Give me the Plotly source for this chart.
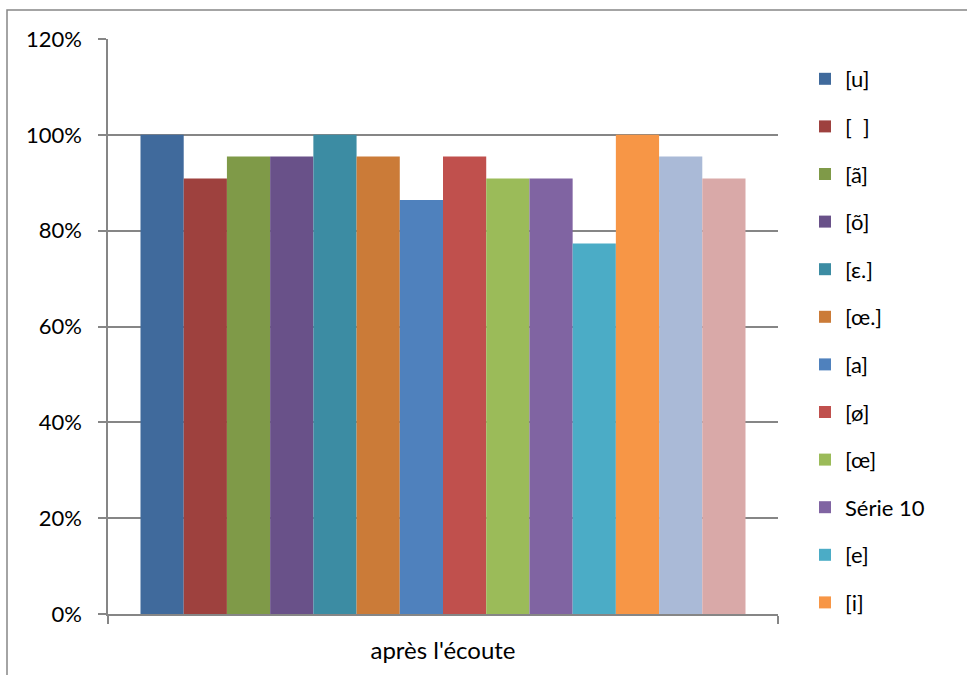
import plotly.graph_objects as go

# Percentage of correct identification per sound, after listening
category = ["après l'écoute"]
series_names = ["[u]", "[  ]", "[ã]", "[õ]", "[ε.]", "[œ.]", "[a]", "[ø]",
                "[œ]", "Série 10", "[e]", "[i]", "Série 13", "Série 14"]
series_values = [1.0, 0.909, 0.955, 0.955, 1.0, 0.955, 0.864, 0.955,
                 0.909, 0.909, 0.773, 1.0, 0.955, 0.909]
series_colors = ["#406A9C", "#9E413E", "#7F9A48", "#695189", "#3C8CA3",
                 "#CB7B38", "#4F81BD", "#C0504D", "#9BBB59", "#8064A2",
                 "#4BACC6", "#F79646", "#AABAD7", "#D9A9A8"]
legend_count = 12  # only the first twelve entries fit in the legend box

y_ticks = [0, 0.2, 0.4, 0.6, 0.8, 1.0, 1.2]
y_tick_text = ["0%", "20%", "40%", "60%", "80%", "100%", "120%"]

FONT = "Lato, 'Open Sans', sans-serif"

fig = go.Figure()
for i, (name, val, col) in enumerate(zip(series_names, series_values, series_colors)):
    fig.add_trace(go.Bar(
        x=category, y=[val], name=name,
        marker=dict(color=col, line=dict(width=0)),
        legendgroup=f"g{i}",
        showlegend=i < legend_count,
    ))

W, H = 967, 675
L, R, T, B = 108, 778, 39, 614
fig.update_layout(
    width=W, height=H,
    margin=dict(l=L, r=W - R, t=T, b=H - B),
    paper_bgcolor="white", plot_bgcolor="white",
    barmode="group", bargap=0.097, bargroupgap=0,
    font=dict(family=FONT, size=22, color="#000000"),
    legend=dict(
        x=(805 - L) / (R - L), xanchor="left",
        y=1.0 - (58 - T) / (B - T), yanchor="top",
        traceorder="grouped", tracegroupgap=16,
        font=dict(family=FONT, size=22, color="#000000"),
        itemwidth=30, bgcolor="rgba(0,0,0,0)",
        maxheight=900,
    ),
    xaxis=dict(
        showline=True, linecolor="#868686", linewidth=1.5,
        ticks="outside", tickson="boundaries", ticklen=8,
        tickcolor="#868686", tickwidth=1.5,
        ticklabelstandoff=14, showgrid=False,
        tickfont=dict(family=FONT, size=24),
    ),
    yaxis=dict(
        range=[0, 1.2], tickvals=y_ticks, ticktext=y_tick_text,
        showline=True, linecolor="#868686", linewidth=1.5,
        ticks="outside", ticklen=8, tickcolor="#868686", tickwidth=1.5,
        showgrid=True, gridcolor="#868686", gridwidth=1.5,
        zeroline=False, ticklabelstandoff=12,
        tickfont=dict(family=FONT, size=22),
    ),
    shapes=[dict(
        type="rect", xref="paper", yref="paper",
        x0=(7 - L) / (R - L), x1=(W + 10 - L) / (R - L),
        y0=-(H + 10 - B) / (B - T), y1=1 + (T - 10) / (B - T),
        line=dict(color="#868686", width=1.5), fillcolor="rgba(0,0,0,0)",
        layer="below",
    )],
)

fig.write_html("out.html")
